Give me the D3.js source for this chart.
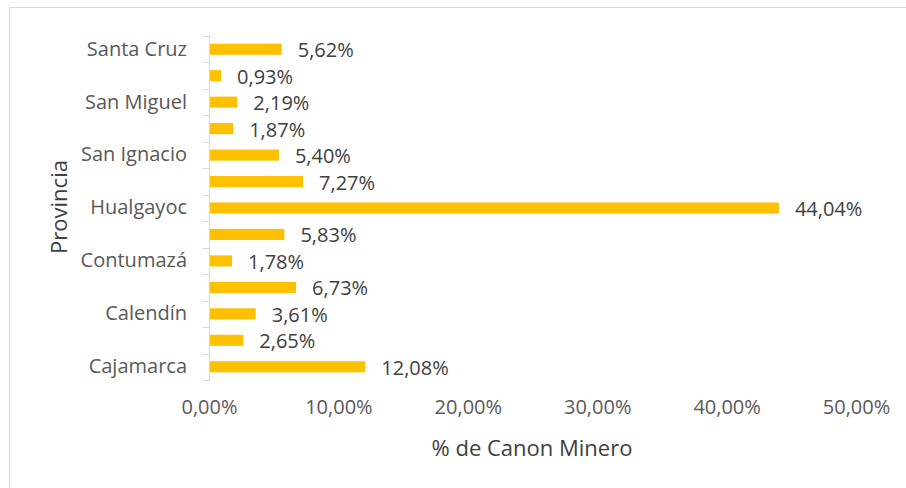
<!DOCTYPE html>
<meta charset="utf-8">
<style>
  body { margin: 0; background: #fff; }
  text { font-family: "Open Sans", sans-serif; }
</style>
<body>
<script src="https://d3js.org/d3.v7.min.js"></script>
<script>

// Data (bottom to top, as in the chart)
var provincias = ["Cajamarca", "Cajabamba", "Calendín", "Chota", "Contumazá", "Cutervo",
                  "Hualgayoc", "Jaén", "San Ignacio", "San Marcos", "San Miguel", "San Pablo", "Santa Cruz"];
var canon = [12.08, 2.65, 3.61, 6.73, 1.78, 5.83, 44.04, 7.27, 5.40, 1.87, 2.19, 0.93, 5.62];
var xTicks = [0, 10, 20, 30, 40, 50];

var width = 906, height = 488;
var plot = {left: 209, right: 856, top: 36, bottom: 380};

var svg = d3.select("body").append("svg")
    .attr("width", width)
    .attr("height", height);

// chart area border
svg.append("rect")
    .attr("x", 9.5).attr("y", 7.5)
    .attr("width", width).attr("height", height)
    .attr("fill", "none")
    .attr("stroke", "#d9d9d9");

var x = d3.scaleLinear().domain([0, 50]).range([plot.left, plot.right]);
var y = d3.scaleBand()
    .domain(provincias.slice().reverse())
    .range([plot.top, plot.bottom])
    .paddingInner(0.58)
    .paddingOuter(0.29);

var fmt = function(v) { return v.toFixed(2).replace(".", ",") + "%"; };

// bars
svg.selectAll(".bar")
  .data(provincias)
  .enter().append("rect")
    .attr("class", "bar")
    .attr("x", x(0))
    .attr("y", function(d) { return y(d); })
    .attr("width", function(d, i) { return x(canon[i]) - x(0); })
    .attr("height", y.bandwidth())
    .attr("fill", "#ffc000");

// value labels
svg.selectAll(".val")
  .data(provincias)
  .enter().append("text")
    .attr("class", "val")
    .attr("x", function(d, i) { return x(canon[i]) + 16; })
    .attr("y", function(d) { return y(d) + y.bandwidth() / 2 + 1; })
    .attr("dy", "0.35em")
    .attr("font-size", 20)
    .attr("fill", "#404040")
    .text(function(d, i) { return fmt(canon[i]); });

// y axis: every other label, ticks at band boundaries
var yAxis = d3.axisLeft(y)
    .tickValues(provincias.filter(function(d, i) { return i % 2 === 0; }))
    .tickSize(0)
    .tickPadding(22);

var gy = svg.append("g")
    .attr("transform", "translate(" + plot.left + ",0)")
    .call(yAxis);
gy.select(".domain").remove();
gy.selectAll("text")
    .attr("font-size", 20)
    .attr("fill", "#595959")
    .style("font-family", "'Open Sans', sans-serif");

var step = y.step();
var bounds = d3.range(provincias.length + 1).map(function(i) { return plot.top + i * step; });
svg.append("g").selectAll("line")
  .data(bounds)
  .enter().append("line")
    .attr("x1", plot.left - 6).attr("x2", plot.left)
    .attr("y1", function(d) { return Math.round(d) + 0.5; })
    .attr("y2", function(d) { return Math.round(d) + 0.5; })
    .attr("stroke", "#d9d9d9");
svg.append("line")
    .attr("x1", plot.left + 0.5).attr("x2", plot.left + 0.5)
    .attr("y1", plot.top).attr("y2", plot.bottom + 1)
    .attr("stroke", "#d9d9d9");

// x axis labels (no line)
var xAxis = d3.axisBottom(x)
    .tickValues(xTicks)
    .tickSize(0)
    .tickPadding(0)
    .tickFormat(fmt);
var gx = svg.append("g")
    .attr("transform", "translate(0," + 400 + ")")
    .call(xAxis);
gx.select(".domain").remove();
gx.selectAll("text")
    .attr("font-size", 20)
    .attr("fill", "#595959")
    .style("font-family", "'Open Sans', sans-serif");

// axis titles
svg.append("text")
    .attr("x", 532).attr("y", 448)
    .attr("dy", "0.35em")
    .attr("text-anchor", "middle")
    .attr("font-size", 22)
    .attr("fill", "#404040")
    .text("% de Canon Minero");

svg.append("text")
    .attr("transform", "translate(59,207) rotate(-90)")
    .attr("dy", "0.35em")
    .attr("text-anchor", "middle")
    .attr("font-size", 22)
    .attr("fill", "#404040")
    .text("Provincia");

</script>
</body>
